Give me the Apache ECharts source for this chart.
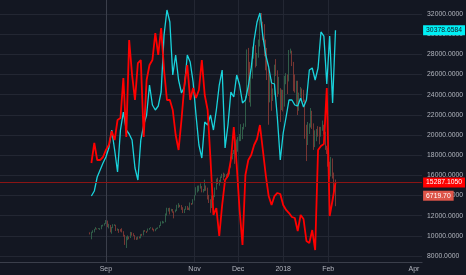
<!DOCTYPE html>
<html><head><meta charset="utf-8">
<script src="https://cdn.jsdelivr.net/npm/echarts@6/dist/echarts.min.js"></script>
<style>html,body{margin:0;padding:0;background:#131722;}#c{width:466px;height:275px;}</style>
</head><body><div id="c"></div>
<script>
const DAY = 86400000;

// Candles (daily, from 2017-08-21), price overlay on its own hidden scale
const candleStartDate = '2017-08-21';
const firstOpen = 4090;
const btcClose = [
4000,4090,4150,4330,4370,4350,4380,4390,4590,4590,4740,
4920,4580,4630,4300,4430,4610,4620,4310,4330,4230,4210,4170,3880,3240,3700,3710,3700,4100,3920,3890,3620,3610,3790,3670,3930,3890,4210,4190,4160,4340,
4400,4410,4310,4220,4330,4370,4440,4610,4780,4780,4820,5440,5640,5830,5680,5750,5600,5570,5710,6000,6030,5980,5900,5520,5740,5890,5770,5730,6150,6130,6450,
6740,7030,7160,7380,7400,6960,7100,7460,7140,6620,6340,5880,6530,6600,7280,7850,7700,7790,8040,8200,8070,8250,8100,8250,8750,9320,9730,9900,9840,9950,
10860,10910,11290,11630,11670,13750,16570,16050,14850,15060,16730,17270,16400,16560,17600,19350,19070,18960,17700,16470,15600,13860,14600,14030,14100,15800,15600,14400,14400,12600,14150,
13650,14980,15200,15150,16930,17170,16200,15000,14400,14900,13300,13900,14200,13600,13580,11430,11160,11250,11640,12780,11530,10760,10800,11360,11260,11110,11450,11750,11210,10190,10110,
9080,8830,9170,8180,6900,6719.70];
const btcHigh = [
4100,4140,4250,4350,4470,4380,4400,4400,4620,4650,4760,
4980,4940,4710,4630,4480,4680,4680,4640,4380,4340,4330,4390,4180,3920,3800,3880,3800,4130,4110,4040,3900,3750,3800,3800,3970,3990,4240,4260,4200,4370,
4410,4470,4440,4350,4360,4420,4460,4620,4880,4920,4870,5450,5860,5840,5860,5780,5770,5600,5730,6070,6190,6070,6050,5900,5780,5980,5990,5870,6240,6200,6470,
6770,7330,7440,7450,7600,7410,7200,7870,7450,7300,6780,6470,6740,6760,7310,7940,8010,7850,8100,8290,8370,8300,8260,8330,8750,9500,9760,10000,11400,10740,
10930,11130,11840,11640,11900,13840,17190,17300,16300,15810,17390,17530,17500,16940,17900,19400,19800,19180,19000,17900,17300,15900,15450,15060,14400,16100,16500,15700,15230,14420,14320,
14300,15300,15500,15400,17150,17250,17100,16300,15400,14950,14950,14100,14500,14400,14300,13600,11800,12000,11900,13000,12800,11900,11400,11500,11700,11650,11650,12100,11800,11300,10300,
10150,9150,9500,9390,8380,7880];
const btcLow = [
3950,3600,4060,4100,4300,4300,4330,4270,4320,4520,4580,
4700,4470,4380,4100,4000,4400,4560,4200,4220,4060,4150,4090,3790,3200,2980,3540,3600,3690,3860,3830,3570,3550,3580,3660,3670,3850,3880,4140,4050,4150,
4280,4380,4250,4160,4180,4300,4350,4420,4550,4730,4750,4820,5300,5590,5380,5600,5500,5100,5530,5620,5850,5900,5710,5480,5480,5710,5700,5700,5660,6060,6100,
6380,6750,6950,7040,7230,6960,6950,7050,7080,6450,6200,5500,5840,6400,6620,7150,7550,7440,7700,7990,7830,8050,8000,8000,8240,8730,9320,9700,9000,9100,
9870,10620,10630,10770,11460,11650,13730,13860,13400,13100,15100,16530,15900,16000,16600,17400,18800,17850,16700,15700,15000,11800,13400,12800,13500,13930,15300,13800,14000,12000,12850,
12750,13100,14700,14000,14900,16900,16000,14200,14100,13100,12500,12800,13800,13500,13420,10800,9200,10350,11140,11600,11500,10000,10200,10620,10950,10400,10950,11370,11100,10000,9700,
8800,7900,8100,7950,6700,5970];

// Lines (every 2 days, from 2017-08-22), on the right scale
const lineStartDate = '2017-08-22';
const lineStepDays = 2;
const redValues = [
17223,19206,17520,17520,17818,18512,19008,20396,19504,21487,21685,25652,19801,29421,25950,23471,27140,27437,19801,25454,
26941,27437,30115,27933,30611,26446,23471,23471,22479,20000,18512,21487,24958,26941,23471,24661,23669,24462,27437,23966,
22479,17520,12066,12760,9983,13058,15537,15934,17520,20793,17024,12562,9091,16033,17520,18016,19008,19603,20991,18512,
16033,13950,13058,13950,14248,14149,13058,12562,12264,11868,11768,10479,12066,11669,9488,9289,10578,8595,18512,18909,
19107,24661,11967,13554,15287.1050];
const cyanValues = [
13950,14446,15834,16529,17223,17818,18710,20495,18512,16330,20495,22280,20495,20099,19504,16727,15537,19504,20991,21983,
24958,22975,22479,22876,24264,29917,32396,31206,25950,27933,25454,24165,24760,27933,27239,25256,21983,19008,17719,21289,
20991,21983,20495,22479,24958,26446,18710,20991,24264,23768,25950,24958,23173,23471,24859,26644,29421,31206,32098,29817,
27933,26743,25156,25057,21685,17520,20198,21785,23471,23471,22975,22876,23669,22776,23471,26446,26644,25454,26644,30214,
29817,25057,29817,23173,30378.6584];

const xTickDates = ['2017-09-01','2017-11-01','2017-12-01','2018-01-01','2018-02-01','2018-04-01'];
const xTickLabels = ['Sep','Nov','Dec','2018','Feb','Apr'];

// x is measured in days since 2017-09-01
const t = s => Date.parse(s + 'T00:00:00Z');
const sep1 = t('2017-09-01');
const dayOf = s => Math.round((t(s) - sep1) / DAY);
const candleD0 = dayOf(candleStartDate), lineD0 = dayOf(lineStartDate);
const xTickDays = xTickDates.map(dayOf);

const candleData = btcClose.map((c, i) => [candleD0 + i, i === 0 ? firstOpen : btcClose[i - 1], c, btcLow[i], btcHigh[i]]);
const redData = redValues.map((v, i) => [lineD0 + i * lineStepDays, v]);
const cyanData = cyanValues.map((v, i) => [lineD0 + i * lineStepDays, v]);

const FONT = "'Liberation Sans', Arial, sans-serif";
const gridColor = '#232733';
const hiddenLine = {color: 'rgba(0,0,0,0)', width: 0};

const chart = echarts.init(document.getElementById('c'), null, {renderer: 'canvas'});
chart.setOption({
  backgroundColor: '#131722',
  animation: false,
  grid: {left: 0, right: 43, top: 0, bottom: 13},
  xAxis: {
    type: 'value',
    min: -72.9,
    max: 217.6,
    axisLine: {show: true, lineStyle: {color: '#3b3f4b', width: 1}},
    axisTick: {show: false, customValues: xTickDays},
    axisLabel: {
      customValues: xTickDays,
      color: '#b2b5be', fontSize: 7, margin: 4, fontFamily: FONT,
      formatter: v => { const i = xTickDays.findIndex(x => Math.abs(x - v) < 0.5); return i >= 0 ? xTickLabels[i] : ''; }
    },
    splitLine: {show: true, showMinLine: false, showMaxLine: false, lineStyle: {color: gridColor, width: 1}}
  },
  yAxis: [{
    type: 'value', position: 'right', min: 7405, max: 33388, splitNumber: 13,
    axisLine: {show: true, lineStyle: {color: '#3b3f4b', width: 1}},
    axisTick: {show: false},
    axisLabel: {color: '#b2b5be', fontSize: 6.8, margin: 5, fontFamily: FONT, showMinLabel: false, showMaxLabel: false,
      formatter: v => (Math.abs(v % 2000) < 1e-6 ? v.toFixed(4) : '')},
    splitLine: {show: true, showMinLine: false, showMaxLine: false, lineStyle: {color: gridColor, width: 1}}
  }, {
    type: 'value', min: 1976, max: 20730, show: false, splitLine: {show: false}
  }],
  series: [{
    type: 'candlestick', yAxisIndex: 1, data: candleData, barWidth: 1,
    itemStyle: {color: '#35694f', color0: '#8a3b35', borderColor: '#35694f', borderColor0: '#8a3b35', borderWidth: 1, opacity: 0.85},
    markLine: {silent: true, symbol: 'none', animation: false,
      data: [{yAxis: btcClose[btcClose.length - 1]}],
      lineStyle: hiddenLine,
      label: {show: true, position: 'end', distance: 1, formatter: btcClose[btcClose.length - 1].toFixed(2),
        backgroundColor: '#dd5549', color: '#ffffff', padding: [2, 3, 1, 3], fontSize: 6.8, fontFamily: FONT}}
  }, {
    type: 'line', data: cyanData, showSymbol: false, symbol: 'none',
    lineStyle: {color: '#19d3dc', width: 1.3}, z: 3,
    markLine: {silent: true, symbol: 'none', animation: false,
      data: [{yAxis: cyanValues[cyanValues.length - 1]}],
      lineStyle: hiddenLine,
      label: {show: true, position: 'end', distance: 1, formatter: cyanValues[cyanValues.length - 1].toFixed(4),
        backgroundColor: '#00f0f5', color: '#131722', padding: [2, 3, 1, 3], fontSize: 6.8, fontFamily: FONT}}
  }, {
    type: 'line', data: redData, showSymbol: false, symbol: 'none',
    lineStyle: {color: '#ff0000', width: 1.8}, z: 4,
    markLine: {silent: true, symbol: 'none', animation: false,
      data: [{yAxis: redValues[redValues.length - 1]}],
      lineStyle: {color: '#8a1515', width: 1, type: 'solid'},
      label: {show: true, position: 'end', distance: 1, formatter: redValues[redValues.length - 1].toFixed(4),
        backgroundColor: '#ff0000', color: '#ffffff', padding: [2, 3, 1, 3], fontSize: 6.8, fontFamily: FONT}}
  }]
});
</script>
</body></html>
